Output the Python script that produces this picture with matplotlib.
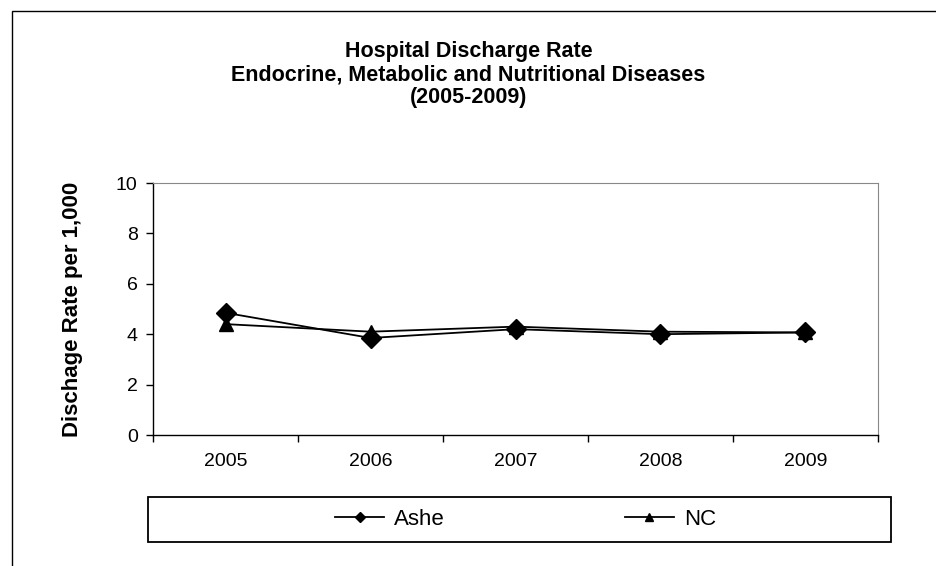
import matplotlib
matplotlib.use("Agg")
import matplotlib.pyplot as plt
from matplotlib.patches import Rectangle

years = ["2005", "2006", "2007", "2008", "2009"]
ashe = [4.85, 3.85, 4.2, 4.0, 4.07]
nc = [4.4, 4.1, 4.3, 4.1, 4.07]
yticks = [0, 2, 4, 6, 8, 10]

plt.rcParams['font.family'] = ['Liberation Sans', 'DejaVu Sans']

W, H = 937, 566
fig = plt.figure(figsize=(W / 100, H / 100), dpi=100)

# outer frame (extends beyond right/bottom edges)
fig.patches.append(Rectangle((12 / W, -0.1), 1.2, 1 - 11 / H + 0.1, transform=fig.transFigure,
                             fill=False, edgecolor='black', linewidth=1.0))

ax = fig.add_axes([153 / W, 1 - 435 / H, (878 - 153) / W, (435 - 183) / H])
x = list(range(len(years)))
ax.plot(x, ashe, color='black', lw=1.3, marker='D', markersize=10, label='Ashe')
ax.plot(x, nc, color='black', lw=1.3, marker='^', markersize=10, label='NC')

ax.set_xlim(-0.5, len(years) - 0.5)
ax.set_ylim(0, 10)
ax.set_yticks(yticks)
ax.set_yticklabels([str(v) for v in yticks], fontsize=14)
ax.set_xticks(x)
ax.set_xticklabels(years, fontsize=14)
ax.set_xticks([i - 0.5 for i in range(len(years) + 1)], minor=True)
ax.tick_params(axis='x', which='major', length=0, pad=13)
ax.tick_params(axis='x', which='minor', length=5, direction='out', width=1)
ax.tick_params(axis='y', length=5, direction='out', width=1, pad=6)
for s in ['top', 'right']:
    ax.spines[s].set_color('#888888')
    ax.spines[s].set_linewidth(0.8)
for s in ['left', 'bottom']:
    ax.spines[s].set_color('black')
    ax.spines[s].set_linewidth(1.0)

ax.set_ylabel('Dischage Rate per 1,000', fontsize=16, fontweight='bold', labelpad=24)

cx = 0.5
fig.text(cx, 1 - 52 / H, 'Hospital Discharge Rate',
         ha='center', va='center', fontsize=15.5, fontweight='bold')
fig.text(cx, 1 - 75 / H, 'Endocrine, Metabolic and Nutritional Diseases',
         ha='center', va='center', fontsize=15.5, fontweight='bold')
fig.text(cx, 1 - 98 / H, '(2005-2009)',
         ha='center', va='center', fontsize=15.5, fontweight='bold')

leg = fig.legend(loc='center', bbox_to_anchor=(154 / W, 1 - 542 / H, (891 - 148) / W, 45 / H),
                 ncol=2, fontsize=16, frameon=False,
                 markerscale=0.55, handlelength=2.2, columnspacing=8.1, handletextpad=0.45,
                 borderaxespad=0)

fig.add_artist(Rectangle((148 / W, 1 - 542 / H), (891 - 148) / W, 45 / H, transform=fig.transFigure,
                         fill=False, edgecolor='black', linewidth=1.3))

fig.savefig('out.png', dpi=100)
